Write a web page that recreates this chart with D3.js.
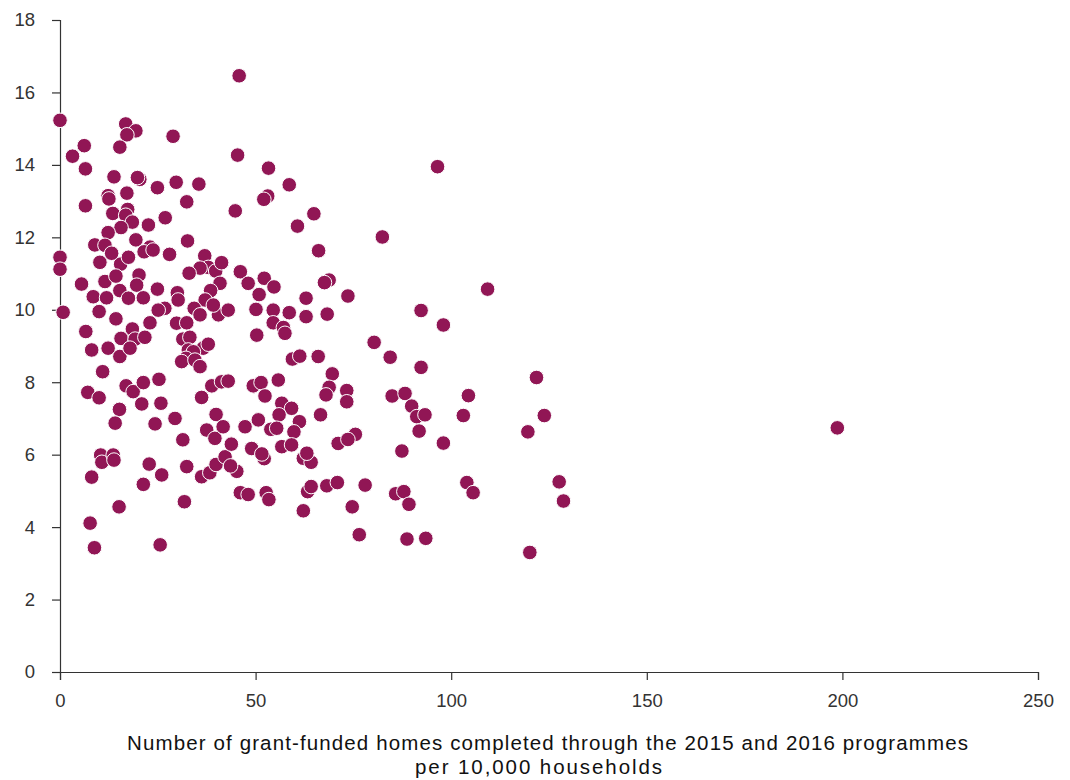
<!DOCTYPE html>
<html>
<head>
<meta charset="utf-8">
<script src="https://cdn.jsdelivr.net/npm/d3@7"></script>
<style>
  html, body { margin: 0; padding: 0; background: #ffffff; }
  svg { display: block; }
  text { font-family: "Liberation Sans", Arial, sans-serif; }
</style>
</head>
<body>
<svg id="chart" width="1070" height="780"></svg>
<script>
// ---- Data ----
const xValues = [
  0, 16.8, 19.4, 17.1, 28.9, 6.2, 3.2, 15.3, 6.5, 13.8,
  20.4, 19.8, 24.9, 29.7, 35.5, 17.1, 12.3, 12.5, 32.4, 6.5,
  13.5, 17.3, 16.8, 18.5, 15.6, 26.9, 22.6, 12.3, 19.4, 32.6,
  8.9, 11.5, 23.0, 21.5, 0, 0, 10.2, 15.5, 17.5, 13.2,
  23.8, 28.0, 37.0, 37.9, 35.8, 39.8, 41.3, 33.0, 5.5, 11.5,
  14.3, 20.2, 19.6, 15.3, 17.5, 21.3, 8.5, 11.9, 24.9, 30.0,
  30.2, 40.9, 38.5, 37.1, 34.3, 26.8, 25.1, 35.8, 40.5, 43.0,
  39.2, 0.8, 10.0, 14.3, 6.6, 8.1, 12.3, 15.3, 15.6, 18.5,
  19.2, 17.9, 21.7, 23.0, 29.8, 32.4, 31.4, 33.2, 32.8, 36.6,
  37.9, 34.1, 32.2, 31.1, 34.5, 35.8, 10.9, 7.1, 10.0, 16.9,
  18.7, 21.3, 20.9, 25.3, 15.2, 14.1, 25.8, 24.3, 29.4, 31.4,
  36.2, 38.8, 41.3, 43.0, 39.9, 37.5, 39.6, 41.7, 10.4, 10.7,
  13.6, 13.8, 8.1, 22.8, 26.0, 21.3, 32.4, 36.2, 38.3, 39.9,
  42.2, 15.1, 31.8, 7.7, 8.8, 25.6, 45.8, 45.4, 53.3, 58.6,
  53.1, 52.1, 44.8, 64.9, 60.7, 82.4, 96.5, 66.1, 46.1, 48.1,
  52.2, 54.7, 50.9, 62.9, 68.8, 67.6, 73.6, 109.3, 50.1, 54.5,
  58.6, 62.9, 68.3, 54.5, 57.1, 57.5, 50.3, 92.3, 98.0, 80.3,
  84.4, 92.3, 59.4, 61.3, 66.0, 69.6, 68.8, 68.0, 73.3, 73.3,
  49.4, 51.4, 55.8, 52.4, 56.7, 59.2, 56.0, 61.2, 59.8, 47.3,
  50.7, 53.9, 55.4, 66.6, 84.9, 88.2, 89.9, 91.2, 93.3, 91.8,
  104.4, 103.1, 98.0, 87.4, 75.5, 71.1, 73.6, 43.8, 49.0, 52.2,
  51.6, 56.7, 59.2, 62.2, 64.2, 63.1, 45.2, 43.6, 46.1, 48.1,
  52.7, 53.4, 63.3, 64.2, 68.2, 70.9, 78.0, 85.8, 87.9, 104.0,
  105.6, 62.2, 74.7, 89.2, 76.5, 88.7, 93.5, 121.8, 123.8, 119.6,
  127.6, 128.7, 120.1, 198.7
];
const yValues = [
  15.23, 15.13, 14.94, 14.83, 14.79, 14.53, 14.24, 14.49, 13.89, 13.67,
  13.60, 13.65, 13.37, 13.52, 13.47, 13.22, 13.15, 13.06, 12.98, 12.87,
  12.66, 12.77, 12.61, 12.42, 12.27, 12.54, 12.34, 12.13, 11.93, 11.90,
  11.79, 11.78, 11.73, 11.60, 11.45, 11.12, 11.31, 11.26, 11.45, 11.56,
  11.65, 11.53, 11.49, 11.17, 11.15, 11.07, 11.30, 11.01, 10.71, 10.78,
  10.93, 10.96, 10.68, 10.53, 10.32, 10.33, 10.36, 10.33, 10.57, 10.47,
  10.27, 10.73, 10.53, 10.27, 10.04, 10.04, 9.99, 9.86, 9.86, 9.99,
  10.13, 9.93, 9.95, 9.75, 9.40, 8.89, 8.94, 8.71, 9.21, 9.47,
  9.19, 8.94, 9.24, 9.64, 9.63, 9.64, 9.19, 9.24, 8.89, 8.94,
  9.05, 8.84, 8.66, 8.57, 8.61, 8.43, 8.29, 7.72, 7.57, 7.90,
  7.74, 7.99, 7.40, 8.08, 7.25, 6.87, 7.42, 6.85, 7.00, 6.41,
  7.58, 7.90, 8.01, 8.03, 7.11, 6.68, 6.45, 6.77, 5.99, 5.79,
  5.99, 5.85, 5.38, 5.74, 5.44, 5.18, 5.67, 5.39, 5.50, 5.73,
  5.94, 4.56, 4.70, 4.11, 3.43, 3.51, 16.46, 14.27, 13.91, 13.45,
  13.14, 13.05, 12.73, 12.65, 12.31, 12.01, 13.95, 11.63, 11.05, 10.73,
  10.87, 10.63, 10.42, 10.32, 10.82, 10.75, 10.38, 10.57, 10.01, 9.99,
  9.92, 9.81, 9.88, 9.64, 9.51, 9.35, 9.30, 9.98, 9.58, 9.10,
  8.69, 8.41, 8.64, 8.72, 8.71, 8.23, 7.86, 7.65, 7.77, 7.46,
  7.90, 7.99, 8.06, 7.62, 7.42, 7.28, 7.10, 6.91, 6.63, 6.77,
  6.96, 6.70, 6.73, 7.10, 7.62, 7.69, 7.34, 7.05, 7.10, 6.65,
  7.63, 7.08, 6.32, 6.10, 6.56, 6.31, 6.42, 6.29, 6.17, 5.89,
  6.02, 6.22, 6.27, 5.90, 5.79, 6.04, 5.54, 5.69, 4.95, 4.90,
  4.95, 4.76, 4.98, 5.12, 5.14, 5.23, 5.16, 4.92, 4.98, 5.23,
  4.95, 4.45, 4.56, 4.63, 3.79, 3.67, 3.69, 8.13, 7.08, 6.63,
  5.25, 4.72, 3.30, 6.74
];
const xTicks = [0, 50, 100, 150, 200, 250];
const yTicks = [0, 2, 4, 6, 8, 10, 12, 14, 16, 18];
const xLabelLines = [
  "Number of grant-funded homes completed through the 2015 and 2016 programmes",
  "per 10,000 households"
];

// ---- Layout ----
const svg = d3.select("#chart");
const plotLeft = 60, plotRight = 1038, plotTop = 20, plotBottom = 672;
const pointColor = "#911655";
const axisColor = "#333333";

const x = d3.scaleLinear().domain([0, 250]).range([plotLeft, plotRight]);
const y = d3.scaleLinear().domain([0, 18]).range([plotBottom, plotTop]);

const points = xValues.map((v, i) => ({ x: v, y: yValues[i] }));

// Axes
const xAxis = d3.axisBottom(x).tickValues(xTicks).tickSize(8).tickPadding(14).tickFormat(d3.format("d"));
const yAxis = d3.axisLeft(y).tickValues(yTicks).tickSize(8).tickPadding(17).tickFormat(d3.format("d"));

const gx = svg.append("g").attr("transform", `translate(0,${plotBottom})`).call(xAxis);
const gy = svg.append("g").attr("transform", `translate(${plotLeft},0)`).call(yAxis);

[gx, gy].forEach(g => {
  g.select(".domain").attr("stroke", axisColor).attr("stroke-width", 1.2);
  g.selectAll(".tick line").attr("stroke", axisColor).attr("stroke-width", 1.2);
  g.selectAll(".tick text")
    .attr("fill", "#333333")
    .style("font-size", "18.5px")
    .style("font-family", '"Liberation Sans", Arial, sans-serif');
});

// Points
svg.append("g")
  .selectAll("circle")
  .data(points)
  .join("circle")
  .attr("cx", d => x(d.x))
  .attr("cy", d => y(d.y))
  .attr("r", 7.3)
  .attr("fill", pointColor)
  .attr("stroke", "#ffffff")
  .attr("stroke-width", 1);

// X axis title (two lines, spread to the reference's widths)
const lineCenters = [547.5, 538.5];
const lineYs = [750, 774];
const lineWidths = [841, 247];
svg.append("g")
  .selectAll("text")
  .data(xLabelLines)
  .join("text")
  .attr("x", (d, i) => lineCenters[i])
  .attr("y", (d, i) => lineYs[i])
  .attr("text-anchor", "middle")
  .attr("fill", "#111111")
  .attr("textLength", (d, i) => lineWidths[i])
  .attr("lengthAdjust", "spacing")
  .style("font-size", "20.5px")
  .text(d => d);
</script>
</body>
</html>
